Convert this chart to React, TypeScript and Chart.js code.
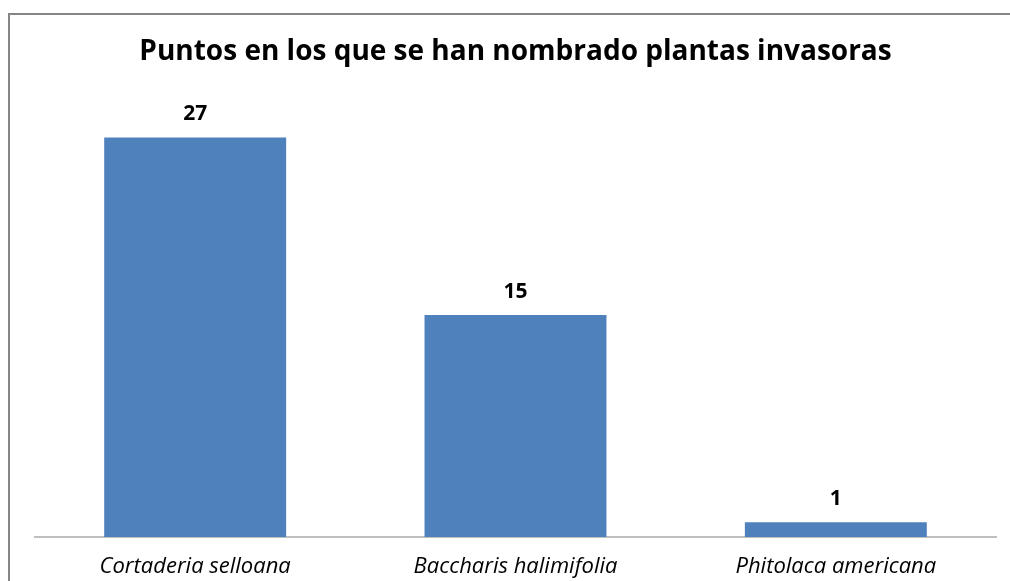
import React, { useEffect, useRef } from "react";
import { Chart, registerables } from "chart.js";

Chart.register(...registerables);

const titleText = "Puntos en los que se han nombrado plantas invasoras";
const categories = ["Cortaderia selloana", "Baccharis halimifolia", "Phitolaca americana"];
const values = [27, 15, 1];
const yMax = 30;

const framePlugin = {
  id: "frame",
  beforeDraw(chart: any) {
    const ctx = chart.ctx;
    ctx.save();
    ctx.fillStyle = "#ffffff";
    ctx.fillRect(0, 0, chart.width, chart.height);
    ctx.strokeStyle = "#868686";
    ctx.lineWidth = 2;
    ctx.beginPath();
    ctx.moveTo(9, chart.height + 5);
    ctx.lineTo(9, 14);
    ctx.lineTo(chart.width + 5, 14);
    ctx.stroke();
    ctx.restore();
  },
};

const labelPlugin = {
  id: "barLabels",
  afterDatasetsDraw(chart: any) {
    const ctx = chart.ctx;
    const meta = chart.getDatasetMeta(0);
    ctx.save();
    ctx.font = "bold 21px 'Open Sans'";
    ctx.fillStyle = "#000000";
    ctx.textAlign = "center";
    ctx.textBaseline = "middle";
    meta.data.forEach((bar: any, i: number) => {
      ctx.fillText(String(values[i]), bar.x, bar.y - 23);
    });
    ctx.restore();
  },
};

export default function App() {
  const ref = useRef<HTMLCanvasElement>(null);
  useEffect(() => {
    if (!ref.current) return;
    const chart = new Chart(ref.current, {
      type: "bar",
      data: {
        labels: categories,
        datasets: [
          {
            data: values,
            backgroundColor: "#4f81bd",
            categoryPercentage: 1,
            barPercentage: 0.568,
          },
        ],
      },
      options: {
        animation: false,
        responsive: false,
        maintainAspectRatio: false,
        layout: { padding: { left: 35, right: 14, top: 35, bottom: 0 } },
        plugins: {
          legend: { display: false },
          tooltip: { enabled: false },
          title: {
            display: true,
            text: titleText,
            color: "#000000",
            font: { family: "'Open Sans'", size: 28, weight: "bold", lineHeight: 1.2 },
            padding: { top: 0, bottom: 24.4 },
          },
        },
        scales: {
          x: {
            grid: { display: false, drawTicks: false },
            border: { display: true, color: "#bfbfbf", width: 2 },
            ticks: {
              color: "#000000",
              padding: 17,
              font: { family: "'Open Sans'", size: 22, style: "italic", lineHeight: 1.2 },
            },
            afterFit(scale: any) {
              scale.height = 44;
            },
          },
          y: {
            display: false,
            min: 0,
            max: yMax,
          },
        },
      },
      plugins: [framePlugin, labelPlugin],
    });
    return () => chart.destroy();
  }, []);
  return (
    <div style={{ position: "fixed", left: 0, top: 0, width: 1010, height: 581 }}>
      <canvas ref={ref} width={1010} height={581} style={{ display: "block" }} />
    </div>
  );
}
